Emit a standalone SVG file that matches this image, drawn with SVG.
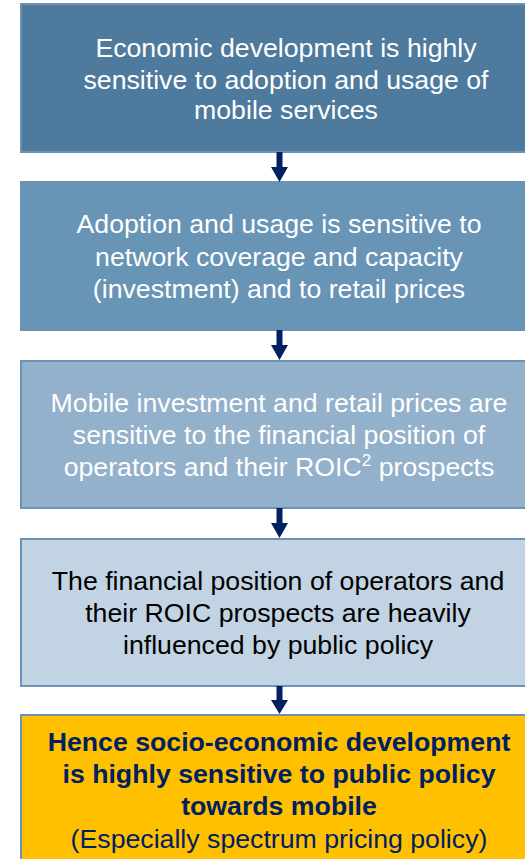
<svg xmlns="http://www.w3.org/2000/svg" width="525" height="859" viewBox="0 0 525 859">
<style>
.box{stroke:#6B93B8;stroke-width:2}
.t{font-family:"Liberation Sans",Arial,sans-serif;font-size:26.7px;text-anchor:middle}
.w{fill:#FFFFFF}
.k{fill:#000000}
.n{fill:#002060}
.b{font-weight:bold}
.arr{fill:#002060}
</style>
<rect width="525" height="859" fill="#FFFFFF"/>
<g id="node1">
<rect class="box" x="21" y="4" width="520" height="148" fill="#4E7A9E"/>
<text class="t w" x="286" y="57">Economic development is highly</text>
<text class="t w" x="286" y="88.5">sensitive to adoption and usage of</text>
<text class="t w" x="286" y="119">mobile services</text>
</g>
<g id="node2">
<rect class="box" x="21" y="182" width="520" height="148" fill="#6894B6"/>
<text class="t w" x="279" y="233">Adoption and usage is sensitive to</text>
<text class="t w" x="279" y="266">network coverage and capacity</text>
<text class="t w" x="279" y="298">(investment) and to retail prices</text>
</g>
<g id="node3">
<rect class="box" x="21" y="361" width="520" height="147" fill="#93B1CA"/>
<text class="t w" x="279" y="412">Mobile investment and retail prices are</text>
<text class="t w" x="279" y="444">sensitive to the financial position of</text>
<text class="t w" x="279" y="476">operators and their ROIC<tspan font-size="17" dy="-10">2</tspan><tspan dy="10"> prospects</tspan></text>
</g>
<g id="node4">
<rect class="box" x="21" y="539" width="520" height="147" fill="#C2D4E3"/>
<text class="t k" x="278" y="590">The financial position of operators and</text>
<text class="t k" x="278" y="622">their ROIC prospects are heavily</text>
<text class="t k" x="278" y="654">influenced by public policy</text>
</g>
<g id="node5">
<rect class="box" x="21" y="715" width="520" height="160" fill="#FFC000"/>
<text class="t n b" x="279" y="751">Hence socio-economic development</text>
<text class="t n b" x="279" y="783">is highly sensitive to public policy</text>
<text class="t n b" x="279" y="815">towards mobile</text>
<text class="t n" x="279" y="848">(Especially spectrum pricing policy)</text>
</g>
<g id="connectors">
<path class="arr" d="M276.5,152 H282.5 V167 H288 L279.5,182 L271,167 H276.5 Z"/>
<path class="arr" d="M276.5,330 H282.5 V345 H288 L279.5,360 L271,345 H276.5 Z"/>
<path class="arr" d="M276.5,508 H282.5 V523 H288 L279.5,538 L271,523 H276.5 Z"/>
<path class="arr" d="M276.5,686 H282.5 V700 H288 L279.5,714 L271,700 H276.5 Z"/>
</g>
</svg>
